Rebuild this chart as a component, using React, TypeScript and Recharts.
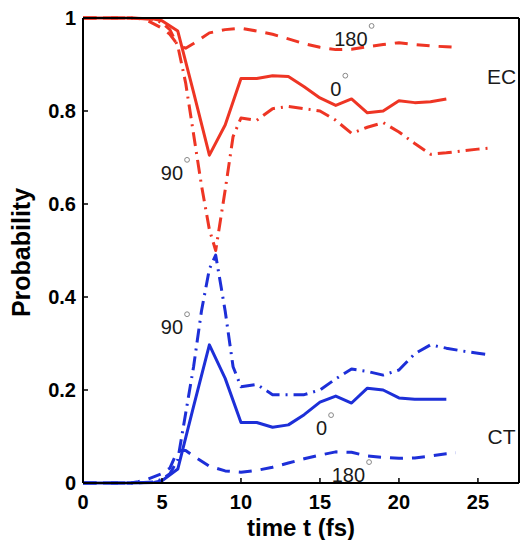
import React from 'react';
import { LineChart, Line, XAxis, YAxis, ReferenceDot } from 'recharts';

const FONT = '"Liberation Sans", Arial, Helvetica, sans-serif';
const RED = '#ee3524';
const BLUE = '#1d2fd8';

const xTicks = [0, 5, 10, 15, 20, 25];
const yTicks = [0, 0.2, 0.4, 0.6, 0.8, 1];

// 0° orientation
const timeZero = [0, 3, 4.5, 5, 6, 7, 8, 9, 10, 11, 12, 13, 14, 15, 16, 17, 18, 19, 20, 21, 22, 23];
const ecZero = [1, 1, 0.998, 0.994, 0.972, 0.84, 0.705, 0.77, 0.87, 0.87, 0.876, 0.874, 0.852, 0.828, 0.812, 0.826, 0.796, 0.8, 0.822, 0.818, 0.82, 0.826];
const ctZero = [0, 0, 0.001, 0.005, 0.03, 0.165, 0.297, 0.225, 0.13, 0.13, 0.12, 0.125, 0.147, 0.174, 0.187, 0.172, 0.204, 0.2, 0.183, 0.18, 0.18, 0.18];

// 90° orientation
const timeNinety = [0, 3, 4.5, 5, 5.5, 6, 6.5, 7, 7.5, 8, 8.4, 9, 9.5, 10, 11, 12, 13, 14, 15, 16, 17, 18, 19, 20, 21, 22, 23, 24, 25, 25.7];
const ecNinety = [1, 1, 0.997, 0.99, 0.975, 0.94, 0.86, 0.75, 0.64, 0.545, 0.5, 0.63, 0.745, 0.785, 0.78, 0.805, 0.81, 0.805, 0.8, 0.78, 0.752, 0.765, 0.775, 0.755, 0.73, 0.707, 0.71, 0.714, 0.718, 0.72];
const ctNinety = [0, 0, 0.002, 0.008, 0.02, 0.05, 0.15, 0.25, 0.37, 0.46, 0.49, 0.37, 0.25, 0.207, 0.212, 0.19, 0.19, 0.19, 0.2, 0.224, 0.245, 0.24, 0.232, 0.243, 0.278, 0.297, 0.29, 0.284, 0.279, 0.276];

// 180° orientation
const timeHalfTurn = [0, 3, 3.5, 4, 5, 5.5, 6, 6.5, 7, 8, 9, 10, 11, 12, 13, 14, 15, 16, 17, 18, 19, 20, 21, 22, 23, 23.6];
const ecHalfTurn = [1, 1, 0.999, 0.996, 0.978, 0.965, 0.942, 0.935, 0.945, 0.968, 0.975, 0.978, 0.972, 0.965, 0.955, 0.945, 0.937, 0.932, 0.933, 0.938, 0.943, 0.947, 0.943, 0.94, 0.938, 0.937];
const ctHalfTurn = [0, 0, 0.003, 0.007, 0.02, 0.032, 0.07, 0.07, 0.058, 0.036, 0.026, 0.023, 0.027, 0.034, 0.043, 0.052, 0.06, 0.067, 0.066, 0.058, 0.055, 0.053, 0.054, 0.058, 0.063, 0.065];

// curve annotations (angle labels and channel names)
const annotations = [
  { text: '180', t: 16.96, p: 0.955, degree: true, size: 20 },
  { text: '0', t: 16.0, p: 0.848, degree: true, size: 20 },
  { text: '90', t: 5.63, p: 0.667, degree: true, size: 20 },
  { text: '90', t: 5.63, p: 0.335, degree: true, size: 20 },
  { text: '0', t: 15.1, p: 0.118, degree: true, size: 20 },
  { text: '180', t: 16.8, p: 0.017, degree: true, size: 20 },
  { text: 'EC', t: 26.5, p: 0.875, degree: false, size: 21 },
  { text: 'CT', t: 26.5, p: 0.099, degree: false, size: 21 },
];

const DASHED = '13 9';
const DASH_DOT = '14 6 2 6';

const toPoints = (times: number[], values: number[]) =>
  times.map((t, i) => ({ t, p: values[i] }));

const series = [
  { key: 'ec0', data: toPoints(timeZero, ecZero), color: RED, dash: undefined },
  { key: 'ec90', data: toPoints(timeNinety, ecNinety), color: RED, dash: DASH_DOT },
  { key: 'ec180', data: toPoints(timeHalfTurn, ecHalfTurn), color: RED, dash: DASHED },
  { key: 'ct0', data: toPoints(timeZero, ctZero), color: BLUE, dash: undefined },
  { key: 'ct90', data: toPoints(timeNinety, ctNinety), color: BLUE, dash: DASH_DOT },
  { key: 'ct180', data: toPoints(timeHalfTurn, ctHalfTurn), color: BLUE, dash: DASHED },
];

const X_DOMAIN: [number, number] = [0, 27.6];
const tickStyle = { fill: '#000', fontSize: 20, fontWeight: 'bold', fontFamily: FONT };
const axisLineStyle = { stroke: '#000', strokeWidth: 2 };
const tickLineStyle = { stroke: '#000', strokeWidth: 1.5 };

const AnnotationShape = (props: any) => {
  const { cx, cy, item } = props;
  if (cx == null || cy == null) return null;
  const half = (item.text.length * item.size * 0.556) / 2;
  return (
    <g>
      <text
        x={cx}
        y={cy}
        textAnchor="middle"
        dominantBaseline="central"
        fontSize={item.size}
        fontFamily={FONT}
        fill="#1a1a1a"
      >
        {item.text}
      </text>
      {item.degree && (
        <circle cx={cx + half + 4} cy={cy - 13} r={2.4} fill="#fff" stroke="#888" strokeWidth={1} />
      )}
    </g>
  );
};

const YLabel = (props: any) => {
  const vb = props.viewBox || { x: 0, y: 18, width: 83, height: 465 };
  const cx = 30;
  const cy = vb.y + vb.height / 2 + 2;
  return (
    <text
      x={cx}
      y={cy}
      transform={`rotate(-90, ${cx}, ${cy})`}
      textAnchor="middle"
      fontSize={25}
      fontWeight="bold"
      fontFamily={FONT}
      fill="#000"
    >
      Probability
    </text>
  );
};

export default function App() {
  return (
    <div style={{ position: 'absolute', left: 0, top: 0, background: '#fff' }}>
      <LineChart width={522} height={540} margin={{ top: 0, right: 0, bottom: 0, left: 0 }}>
        <XAxis
          dataKey="t"
          type="number"
          domain={X_DOMAIN}
          ticks={xTicks}
          allowDecimals
          height={57}
          tickSize={-5}
          tickMargin={17}
          tick={tickStyle}
          axisLine={axisLineStyle}
          tickLine={tickLineStyle}
          label={{
            value: 'time t (fs)',
            position: 'insideBottom',
            offset: 4,
            style: { fontSize: 24, fontWeight: 'bold', fontFamily: FONT, fill: '#000' },
          }}
        />
        <XAxis
          xAxisId="top"
          orientation="top"
          type="number"
          domain={X_DOMAIN}
          ticks={xTicks}
          height={18}
          tickSize={-5}
          tick={false}
          axisLine={axisLineStyle}
          tickLine={tickLineStyle}
        />
        <YAxis
          type="number"
          domain={[0, 1]}
          ticks={yTicks}
          width={83}
          tickSize={-5}
          tickMargin={12}
          tick={tickStyle}
          axisLine={axisLineStyle}
          tickLine={tickLineStyle}
          label={<YLabel />}
        />
        <YAxis
          yAxisId="right"
          orientation="right"
          type="number"
          domain={[0, 1]}
          ticks={yTicks}
          width={3}
          tickSize={-5}
          tick={false}
          axisLine={axisLineStyle}
          tickLine={tickLineStyle}
        />
        {series.map((s) => (
          <Line
            key={s.key}
            data={s.data}
            dataKey="p"
            type="linear"
            stroke={s.color}
            strokeWidth={3}
            strokeDasharray={s.dash}
            strokeLinejoin="round"
            dot={false}
            activeDot={false}
            isAnimationActive={false}
          />
        ))}
        {annotations.map((a, i) => (
          <ReferenceDot
            key={`ann-${i}`}
            x={a.t}
            y={a.p}
            r={0}
            shape={(props: any) => <AnnotationShape {...props} item={a} />}
          />
        ))}
      </LineChart>
    </div>
  );
}
